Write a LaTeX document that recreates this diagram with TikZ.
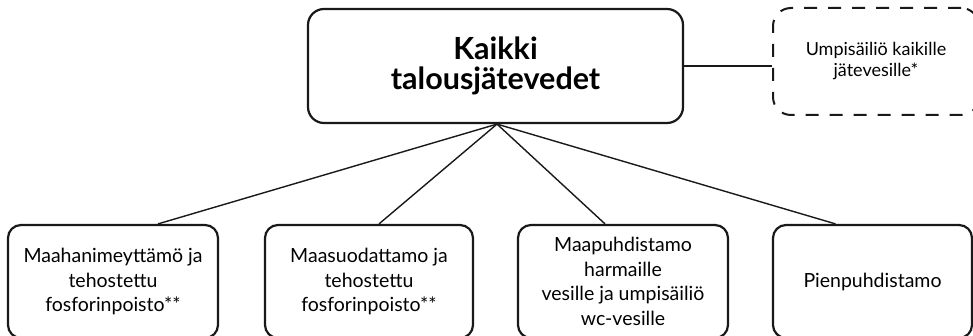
\documentclass[tikz,border=0pt]{standalone}
\usepackage{fontspec}
\setmainfont{Lato}
\usetikzlibrary{calc}
\begin{document}
\begin{tikzpicture}[x=1pt,y=-1pt,
  box/.style={draw=black!90, line width=2.2pt, rounded corners=13pt, align=center, inner sep=0pt, font=\fontsize{19.5}{24.5}\selectfont},
  mainbox/.style={box, rounded corners=16pt, font=\bfseries\fontsize{30.5}{30}\selectfont},
  dashbox/.style={box, line width=2pt, dash pattern=on 13pt off 11pt, rounded corners=18pt, font=\fontsize{18}{21}\selectfont},
  conn/.style={draw=black!90, line width=1.4pt}]
\useasboundingbox (0,0) rectangle (973,336);
\node[mainbox, minimum width=375pt, minimum height=114pt] (main) at (495.5,66) {Kaikki\\talousjätevedet};
\node[dashbox, minimum width=206pt, minimum height=107pt] (side) at (876,61.5) {Umpisäiliö kaikille\\jätevesille*};
\node[box, minimum width=210pt, minimum height=113pt] (b1) at (113,281.5) {Maahanimeyttämö ja\\tehostettu\\fosforinpoisto**};
\node[box, minimum width=208pt, minimum height=113pt] (b2) at (369,281.5) {Maasuodattamo ja\\tehostettu\\fosforinpoisto**};
\node[box, minimum width=210pt, minimum height=113pt] (b3) at (623,281.5) {Maapuhdistamo\\harmaille\\vesille ja umpisäiliö\\wc-vesille};
\node[box, minimum width=199pt, minimum height=113pt] (b4) at (872.5,281.5) {Pienpuhdistamo};
\coordinate (hub) at ([xshift=1.5pt]main.south);
\draw[conn] (main.east) -- (main.east -| side.west);
\draw[conn] (hub) -- ([xshift=45pt]b1.north);
\draw[conn] (hub) -- ([xshift=10pt]b2.north);
\draw[conn] (hub) -- ([xshift=-18pt]b3.north);
\draw[conn] (hub) -- ([xshift=-37pt]b4.north);
\end{tikzpicture}
\end{document}
